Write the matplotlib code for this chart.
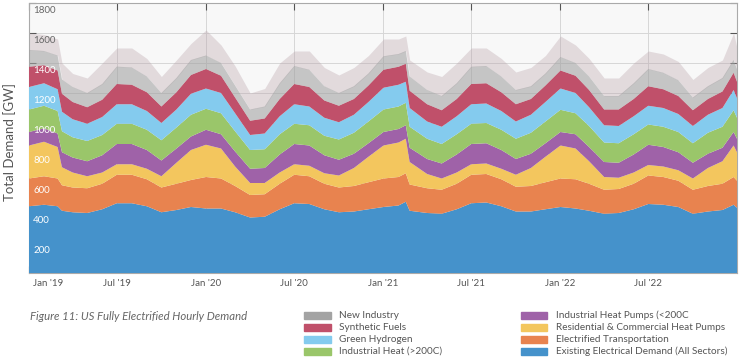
"""
US fully electrified hourly demand, stacked by sector (monthly readings).
"""

import matplotlib
matplotlib.use("Agg")
import matplotlib.pyplot as plt
import matplotlib.transforms as mtransforms
from matplotlib.patches import Rectangle
import numpy as np
import pandas as pd

plt.rcParams["font.family"] = ["Lato", "DejaVu Sans"]

dates = pd.to_datetime([
    "2019-01-01", "2019-02-01", "2019-03-01", "2019-03-10", "2019-04-01", "2019-05-01",
    "2019-06-01", "2019-07-01", "2019-08-01", "2019-09-01", "2019-10-01", "2019-11-01",
    "2019-12-01",
    "2020-01-01", "2020-02-01", "2020-03-01", "2020-04-01", "2020-05-01", "2020-06-01",
    "2020-07-01", "2020-08-01", "2020-09-01", "2020-10-01", "2020-11-01", "2020-12-01",
    "2021-01-01", "2021-02-01", "2021-02-16", "2021-02-24", "2021-04-01", "2021-05-01",
    "2021-06-01", "2021-07-01", "2021-08-01", "2021-09-01", "2021-10-01", "2021-11-01",
    "2021-12-01",
    "2022-01-01", "2022-02-01", "2022-03-01", "2022-04-01", "2022-05-01", "2022-06-01",
    "2022-07-01", "2022-08-01", "2022-09-01", "2022-10-01", "2022-11-01", "2022-12-01",
    "2022-12-24", "2022-12-31",
])

# GW per sector (bottom of the stack first)
existing = [445, 455, 445, 415, 405, 400, 425, 465, 465, 445, 405, 420, 440,
            430, 430, 405, 370, 375, 425, 465, 460, 425, 405, 410, 425,
            440, 450, 475, 415, 400, 395, 425, 465, 470, 445, 410, 410, 425,
            440, 430, 415, 395, 400, 425, 460, 455, 440, 395, 410, 420, 455, 435]
transport = [185, 190, 185, 170, 165, 165, 170, 190, 190, 180, 165, 175, 180,
             210, 200, 175, 150, 150, 170, 190, 185, 170, 165, 170, 180,
             190, 190, 190, 175, 165, 160, 170, 190, 190, 180, 165, 170, 180,
             190, 195, 180, 160, 160, 170, 190, 185, 175, 160, 170, 175, 185, 180]
res_heat_pumps = [220, 230, 210, 120, 100, 80, 75, 70, 70, 70, 75, 140, 200,
                  215, 200, 130, 80, 75, 75, 70, 70, 70, 80, 120, 170,
                  220, 230, 230, 150, 95, 75, 75, 70, 70, 70, 80, 120, 170,
                  220, 205, 150, 85, 75, 75, 70, 70, 70, 75, 120, 150, 210, 190]
ind_heat_pumps = [90, 90, 90, 100, 100, 100, 115, 135, 135, 125, 105, 95, 90,
                  100, 95, 100, 95, 100, 120, 135, 135, 120, 105, 95, 90,
                  90, 90, 90, 95, 100, 100, 120, 135, 135, 125, 105, 95, 90,
                  90, 95, 95, 100, 100, 120, 135, 130, 120, 105, 95, 90, 90, 90]
ind_heat = [150, 150, 150, 140, 135, 135, 135, 135, 135, 135, 135, 140, 145,
            140, 140, 135, 125, 125, 135, 135, 135, 130, 135, 140, 145,
            150, 150, 150, 140, 135, 130, 135, 135, 135, 135, 135, 140, 145,
            148, 140, 140, 130, 130, 135, 135, 135, 135, 130, 140, 140, 145, 140]
hydrogen = [150, 150, 145, 130, 120, 115, 120, 130, 130, 125, 115, 120, 140,
            135, 135, 120, 100, 105, 120, 130, 125, 120, 115, 120, 130,
            145, 145, 140, 125, 115, 115, 120, 130, 130, 125, 115, 120, 130,
            142, 135, 125, 115, 115, 120, 125, 125, 120, 115, 120, 125, 135, 130]
synth_fuels = [135, 120, 125, 120, 115, 110, 115, 135, 130, 125, 110, 115, 125,
               130, 115, 105, 95, 100, 115, 135, 130, 115, 110, 105, 110,
               120, 120, 120, 115, 115, 110, 115, 135, 135, 125, 115, 105, 110,
               120, 115, 115, 105, 110, 115, 130, 125, 120, 105, 105, 110, 115, 110]
new_industry = [112, 95, 100, 95, 100, 95, 105, 116, 115, 105, 90, 95, 100,
                90, 85, 80, 75, 80, 105, 120, 115, 95, 85, 85, 80,
                90, 85, 85, 95, 95, 95, 105, 115, 115, 105, 95, 85, 80,
                90, 85, 90, 90, 90, 105, 115, 110, 105, 85, 85, 90, 85, 85]
# hourly peaks of the total
total_peak = [1600, 1590, 1560, 1400, 1330, 1300, 1400, 1500, 1500, 1430, 1310, 1420, 1530,
              1620, 1520, 1380, 1200, 1230, 1400, 1480, 1480, 1370, 1320, 1370, 1450,
              1560, 1560, 1580, 1420, 1340, 1310, 1400, 1500, 1500, 1430, 1340, 1370, 1450,
              1580, 1520, 1430, 1300, 1300, 1400, 1480, 1460, 1410, 1290, 1370, 1420, 1600, 1500]

layers = [existing, transport, res_heat_pumps, ind_heat_pumps,
          ind_heat, hydrogen, synth_fuels, new_industry]
colours = ["#4592cb", "#e8834f", "#f3c65e", "#9f62a8",
           "#9ac66a", "#84cbee", "#c0506a", "#a3a3a3"]

legend_left = [("New Industry", "#a3a3a3"), ("Synthetic Fuels", "#c0506a"),
               ("Green Hydrogen", "#84cbee"), ("Industrial Heat (>200C)", "#9ac66a")]
legend_right = [("Industrial Heat Pumps (<200C", "#9f62a8"),
                ("Residential & Commercial Heat Pumps", "#f3c65e"),
                ("Electrified Transportation", "#e8834f"),
                ("Existing Electrical Demand (All Sectors)", "#4592cb")]

xtick_dates = pd.to_datetime(["2019-01-01", "2019-07-01", "2020-01-01", "2020-07-01",
                              "2021-01-01", "2021-07-01", "2022-01-01", "2022-07-01"])
xtick_labels = ["Jan '19", "Jul '19", "Jan '20", "Jul '20",
                "Jan '21", "Jul '21", "Jan '22", "Jul '22"]
ytick_values = [200, 400, 600, 800, 1000, 1200, 1400, 1600, 1800]

W, H = 740, 359
fig = plt.figure(figsize=(W / 100, H / 100), dpi=100)
ax = fig.add_axes([29 / W, 1 - 273 / H, (737 - 29) / W, 270 / H])
ax.set_facecolor("#f8f8f8")

total = np.sum(np.array(layers), axis=0)
ax.fill_between(dates, total, total_peak, color="#b9a2aa", alpha=0.35,
                linewidth=0, zorder=2)
polys = ax.stackplot(dates, *layers, colors=colours, linewidth=0, zorder=3)
polys[-1].set_alpha(0.6)

ax.set_xlim(pd.Timestamp("2019-01-01"), pd.Timestamp("2022-12-31"))
ax.set_ylim(0, 1800)

ax.set_xticks(xtick_dates)
ax.set_xticklabels(xtick_labels)
ax.set_yticks(ytick_values)
ax.set_yticklabels([])
ax.grid(True, color="#d6d6d6", linewidth=0.7, zorder=0)
ax.set_axisbelow(True)

ax.tick_params(direction="in", length=5, width=0.8, color="#555555",
               top=True, right=True, labelsize=7, labelcolor="#555555", pad=4)
for s in ax.spines.values():
    s.set_color("#aaaaaa")
    s.set_linewidth(0.8)

# first label sits just right of the left edge
first = ax.get_xticklabels()[0]
first.set_horizontalalignment("left")
first.set_transform(first.get_transform() +
                    mtransforms.ScaledTranslation(3 / 72, 0, fig.dpi_scale_trans))

# y tick labels drawn inside the plot
for v in ytick_values:
    col = "#666666" if v >= 1600 else "white"
    ax.annotate(str(v), xy=(0, v), xycoords=("axes fraction", "data"),
                xytext=(3, -2), textcoords="offset points", ha="left", va="top",
                fontsize=7, color=col, zorder=5)

fig.text(10 / W, 1 - 142 / H, "Total Demand [GW]", rotation=90,
         ha="center", va="center", fontsize=9.5, color="#555555")

fig.text(30 / W, 1 - 316 / H, "Figure 11: US Fully Electrified Hourly Demand",
         style="italic", ha="left", va="center", fontsize=8.2, color="#666666")

rows_y = [315, 327, 339, 351]
for (lbl, c), y in zip(legend_left, rows_y):
    fig.patches.append(Rectangle((304 / W, 1 - (y + 3.5) / H), 27 / W, 7 / H,
                                 transform=fig.transFigure, color=c, figure=fig))
    fig.text(339 / W, 1 - y / H, lbl, ha="left", va="center", fontsize=7.2, color="#555555")
for (lbl, c), y in zip(legend_right, rows_y):
    fig.patches.append(Rectangle((521 / W, 1 - (y + 3.5) / H), 26 / W, 7 / H,
                                 transform=fig.transFigure, color=c, figure=fig))
    fig.text(556 / W, 1 - y / H, lbl, ha="left", va="center", fontsize=7.2, color="#555555")

fig.savefig("out.png", dpi=100)
